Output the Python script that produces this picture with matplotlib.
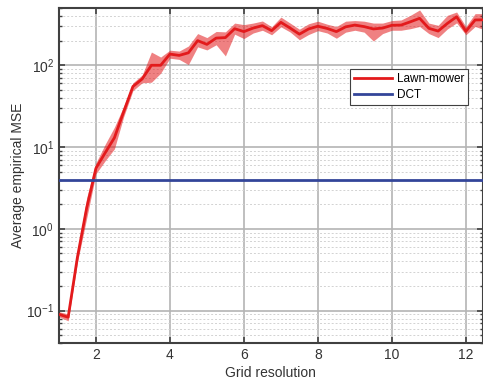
import numpy as np
import matplotlib
matplotlib.use("Agg")
import matplotlib.pyplot as plt
from matplotlib.ticker import LogLocator, NullFormatter, FixedLocator

plt.rcParams['font.family'] = ['Liberation Sans', 'DejaVu Sans']
plt.rcParams['mathtext.fontset'] = 'custom'
plt.rcParams['mathtext.rm'] = 'Liberation Sans'
plt.rcParams['mathtext.it'] = 'Liberation Sans:italic'

# Grid resolution values
grid_res = [1.0, 1.25, 1.5, 1.75, 2.0, 2.25, 2.5, 2.75, 3.0, 3.25, 3.5, 3.75,
            4.0, 4.25, 4.5, 4.75, 5.0, 5.25, 5.5, 5.75, 6.0, 6.25, 6.5, 6.75,
            7.0, 7.25, 7.5, 7.75, 8.0, 8.25, 8.5, 8.75, 9.0, 9.25, 9.5, 9.75,
            10.0, 10.25, 10.5, 10.75, 11.0, 11.25, 11.5, 11.75, 12.0, 12.25, 12.5]

# Lawn-mower mean MSE and its spread
mse_mean = [0.09, 0.083, 0.45, 1.8, 5.5, 8.5, 13, 27, 55, 68, 100, 100,
            137, 132, 142, 200, 180, 215, 218, 280, 258, 285, 305, 265,
            335, 285, 240, 278, 300, 282, 258, 295, 310, 297, 278, 285,
            308, 310, 340, 375, 283, 262, 325, 392, 260, 358, 360]
mse_low = [0.084, 0.075, 0.39, 1.35, 4.7, 6.8, 9.5, 23.5, 49, 61, 62, 80,
           122, 118, 102, 168, 154, 178, 130, 240, 212, 248, 268, 236,
           295, 255, 205, 238, 265, 248, 214, 254, 268, 254, 198, 244,
           268, 268, 280, 298, 244, 218, 278, 330, 236, 298, 272]
mse_high = [0.097, 0.091, 0.51, 2.4, 6.4, 10.8, 17.5, 31.5, 61, 76, 145, 126,
            153, 149, 172, 244, 218, 259, 256, 328, 314, 328, 348, 296,
            388, 328, 276, 322, 346, 318, 298, 346, 352, 346, 328, 328,
            352, 358, 408, 475, 328, 308, 408, 448, 298, 428, 428]

# DCT baseline MSE
dct_mse = 3.9

red = (0.89, 0.1, 0.11)
blue = (0.2, 0.27, 0.6)

fig = plt.figure(figsize=(4.83, 3.86), dpi=100)
ax = fig.add_axes([0.122, 0.111, 0.877, 0.868])

ax.fill_between(grid_res, mse_low, mse_high, color=red, alpha=0.55,
                linewidth=0, zorder=2)
ax.plot(grid_res, mse_mean, color=red, lw=2.0, label='Lawn-mower', zorder=3)
ax.axhline(dct_mse, color=blue, lw=2.0, label='DCT', zorder=3)

ax.set_yscale('log')
ax.set_xlim(1, 12.45)
ax.set_ylim(0.04, 500)

ax.xaxis.set_major_locator(FixedLocator([2, 4, 6, 8, 10, 12]))
ax.yaxis.set_major_locator(LogLocator(base=10, numticks=10))
ax.yaxis.set_minor_locator(LogLocator(base=10, subs=np.arange(2, 10), numticks=10))
ax.yaxis.set_minor_formatter(NullFormatter())

ax.grid(True, which='major', color='#b4b4b4', lw=1.2, zorder=0)
ax.grid(True, which='minor', axis='y', color='#d2d2d2', lw=0.7,
        linestyle=(0, (2, 2)), zorder=0)
ax.set_axisbelow(True)

spine_color = '#404040'
for s in ax.spines.values():
    s.set_color(spine_color)
    s.set_linewidth(1.5)

ax.tick_params(which='both', direction='in', top=True, right=True,
               color=spine_color, labelcolor='#333333', labelsize=10)
ax.tick_params(which='major', length=4, width=1.2)
ax.tick_params(which='minor', length=2.5, width=1.0)

ax.set_xlabel('Grid resolution', fontsize=10, color='#333333', labelpad=3)
ax.set_ylabel('Average empirical MSE', fontsize=10, color='#333333', labelpad=1)

leg = ax.legend(loc='upper right', bbox_to_anchor=(0.98, 0.835), fontsize=8.5,
                frameon=True, fancybox=False, edgecolor='#404040',
                framealpha=1, handlelength=3.2, borderpad=0.35,
                labelspacing=0.3, handletextpad=0.4)
leg.get_frame().set_linewidth(0.8)

fig.savefig('out.png', dpi=100)
